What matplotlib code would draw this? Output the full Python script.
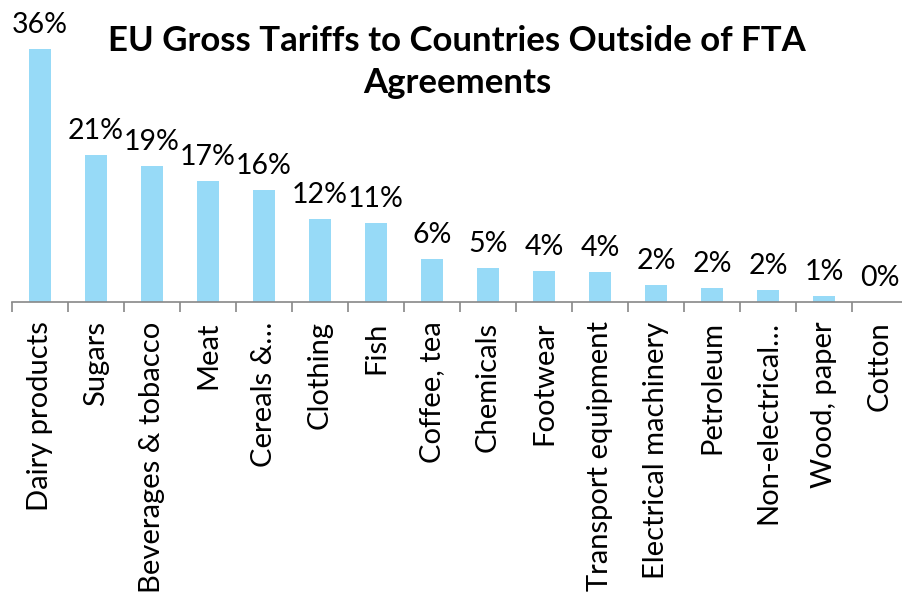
import matplotlib.pyplot as plt
import numpy as np

# EU tariffs on imports from countries without a free trade agreement
categories = ['Dairy products', 'Sugars', 'Beverages & tobacco', 'Meat', 'Cereals &…',
              'Clothing', 'Fish', 'Coffee, tea', 'Chemicals', 'Footwear',
              'Transport equipment', 'Electrical machinery', 'Petroleum',
              'Non-electrical…', 'Wood, paper', 'Cotton']
tariffs = [35.9, 20.9, 19.3, 17.2, 15.9, 11.8, 11.2, 6.1, 4.8, 4.4, 4.2, 2.4, 2.0, 1.7, 0.9, 0.0]

plt.rcParams['font.family'] = ['Lato', 'DejaVu Sans']

fig = plt.figure(figsize=(9.02, 6.0), dpi=100)
ax = fig.add_axes([12 / 902, 1 - 302 / 600, 896 / 902, 282 / 600])

x = np.arange(len(categories))
bars = ax.bar(x, tariffs, width=0.4, color='#97DAF7')

for xi, v in zip(x, tariffs):
    ax.annotate(f'{v:.0f}%', (xi, v), xytext=(0, 8), textcoords='offset points',
                ha='center', va='bottom', fontsize=20.5)

ax.set_xlim(-0.5, len(categories) - 0.5)
ax.set_ylim(0, 40)

for side in ['top', 'right', 'left']:
    ax.spines[side].set_visible(False)
ax.spines['bottom'].set_color('#888888')
ax.spines['bottom'].set_linewidth(1.2)
ax.set_yticks([])

ax.set_xticks(x)
ax.set_xticklabels(categories, rotation=90, fontsize=21)
ax.tick_params(axis='x', which='major', length=0, pad=14)
ax.set_xticks(np.arange(len(categories)) - 0.5, minor=True)
ax.tick_params(axis='x', which='minor', length=7, width=1.2, color='#888888', direction='out')

fig.text(0.507, 0.897, 'EU Gross Tariffs to Countries Outside of FTA\nAgreements',
         ha='center', va='center', fontsize=25, fontweight='bold', linespacing=1.4)

fig.savefig('out.png', dpi=100)
